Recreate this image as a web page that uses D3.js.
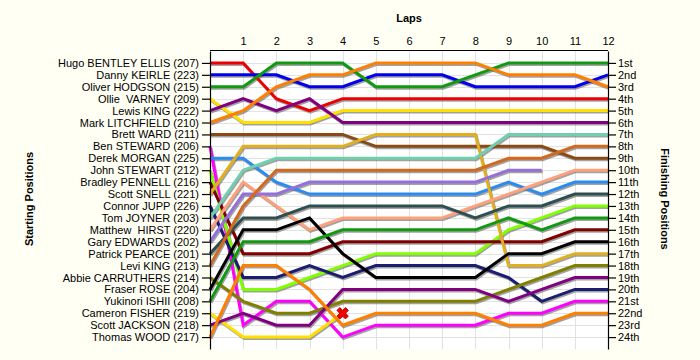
<!DOCTYPE html>
<html><head><meta charset="utf-8">
<script src="https://cdn.jsdelivr.net/npm/d3@7"></script>
<style>
html,body{margin:0;padding:0;background:#fffff4;}
svg{display:block;font-family:"Liberation Sans",Arial,sans-serif;}
text{white-space:pre;}
</style></head>
<body>
<svg id="c" width="700" height="360"></svg>
<script>
const laps = [1,2,3,4,5,6,7,8,9,10,11,12];
const drivers = ["Hugo BENTLEY ELLIS (207)","Danny KEIRLE (223)","Oliver HODGSON (215)","Ollie  VARNEY (209)","Lewis KING (222)","Mark LITCHFIELD (210)","Brett WARD (211)","Ben STEWARD (206)","Derek MORGAN (225)","John STEWART (212)","Bradley PENNELL (216)","Scott SNELL (221)","Connor JUPP (226)","Tom JOYNER (203)","Matthew  HIRST (220)","Gary EDWARDS (202)","Patrick PEARCE (201)","Levi KING (213)","Abbie CARRUTHERS (214)","Fraser ROSE (204)","Yukinori ISHII (208)","Cameron FISHER (219)","Scott JACKSON (218)","Thomas WOOD (217)"];
const finishLabels = ["1st","2nd","3rd","4th","5th","6th","7th","8th","9th","10th","11th","12th","13th","14th","15th","16th","17th","18th","19th","20th","21st","22nd","23rd","24th"];
// positions: start (lap 0) then laps 1..12 ; null = retired
const positions = [
 [1,1,4,5,4,4,4,4,4,4,4,4,4],
 [2,2,2,3,3,2,2,2,3,3,3,3,2],
 [3,3,1,1,1,3,3,3,2,1,1,1,1],
 [4,6,6,6,5,5,5,5,5,5,5,5,5],
 [5,4,5,4,6,6,6,6,6,6,6,6,6],
 [6,5,3,2,2,1,1,1,1,2,2,2,3],
 [7,7,7,7,7,8,8,8,8,8,8,9,9],
 [8,23,21,21,24,23,23,23,23,22,22,21,21],
 [9,9,11,12,12,12,12,12,12,11,12,11,11],
 [10,20,20,19,18,17,17,17,17,15,14,13,13],
 [11,17,17,17,16,16,16,16,16,16,16,15,15],
 [12,8,8,8,8,7,7,7,7,18,18,17,17],
 [13,19,19,18,19,18,18,18,18,19,21,20,20],
 [14,10,9,9,9,9,9,9,9,7,7,7,7],
 [15,11,13,15,14,14,14,14,13,12,11,10,10],
 [16,12,12,11,11,11,11,11,11,10,10,null,null],
 [17,14,14,13,13,13,13,13,14,13,13,12,12],
 [18,13,10,10,10,10,10,10,10,9,9,8,8],
 [19,21,22,22,21,21,21,21,21,20,19,18,18],
 [20,15,15,14,17,19,19,19,19,17,17,16,16],
 [21,16,16,16,15,15,15,15,15,14,15,14,14],
 [22,24,24,24,22,null,null,null,null,null,null,null,null],
 [23,22,23,23,20,20,20,20,20,21,20,19,19],
 [24,18,18,20,23,22,22,22,22,23,23,22,22]
];
const retiredMarks = [21]; // driver index with crash marker
const colors = ["#ee0000","#0000ee","#119911","#ffe000","#800080","#ff8000","#8b4a14","#ff00ff","#2a8cf0","#80ff00","#800000","#e0b020","#1c1c70","#70cfac","#ffa07a","#9370db","#2f4f4f","#d2691e","#808000","#000000","#119911","#ffe000","#800080","#ff8000"];

const svg = d3.select("#c");
const L = 210, R = 608, T = 51, B = 349;
const x = d3.scaleLinear().domain([0,12]).range([L,R]);
const y = d3.scaleLinear().domain([0,25]).range([T,B]);

svg.append("rect").attr("x",L).attr("y",T-1).attr("width",R-L).attr("height",B-T+1).attr("fill","#fff");

// grid
const g = svg.append("g").attr("stroke","#e2e2e2").attr("stroke-width",1);
laps.forEach(l=>g.append("line").attr("x1",Math.round(x(l))+0.5).attr("x2",Math.round(x(l))+0.5).attr("y1",T).attr("y2",B));
d3.range(1,25).forEach(p=>g.append("line").attr("x1",L).attr("x2",R).attr("y1",Math.round(y(p))+0.5).attr("y2",Math.round(y(p))+0.5));

// lines
const line = d3.line().defined(d=>d!=null).x((d,i)=>x(i)).y(d=>y(d));
const lg = svg.append("g").attr("fill","none").attr("stroke-linejoin","miter");
positions.forEach((p,i)=>{
  lg.append("path").attr("d",line(p)).attr("stroke","#555").attr("stroke-opacity",0.55).attr("stroke-width",3).attr("transform","translate(1,1.5)");
});
positions.forEach((p,i)=>{
  lg.append("path").attr("d",line(p)).attr("stroke",colors[i]).attr("stroke-width",3);
});

// retirement marker
retiredMarks.forEach(i=>{
  const p = positions[i];
  let last = 0; p.forEach((v,k)=>{ if(v!=null) last=k; });
  const cx = x(last), cy = y(p[last]);
  const mk = svg.append("g").attr("transform",`translate(${cx},${cy}) rotate(45)`);
  mk.append("path").attr("d","M-6,-2H6V2H-6Z M-2,-6H2V6H-2Z").attr("fill","#e00").attr("stroke","#800").attr("stroke-width",0.8);
  mk.append("rect").attr("x",-6).attr("y",-2).attr("width",12).attr("height",4).attr("fill","#e00");
  mk.append("rect").attr("x",-2).attr("y",-6).attr("width",4).attr("height",12).attr("fill","#e00");
});

// axes
const fs = "11px";
const topAxis = svg.append("g").attr("transform",`translate(0,${T-1})`)
  .call(d3.axisTop(x).tickValues(laps).tickSize(0).tickPadding(5).tickFormat(d3.format("d")));
topAxis.select(".domain").attr("d",`M${L},0.5H${R}`).attr("stroke","#000");
topAxis.selectAll("text").attr("font-size",fs).attr("fill","#000").attr("font-family","Liberation Sans, Arial");

const leftAxis = svg.append("g").attr("transform",`translate(${L},0)`)
  .call(d3.axisLeft(y).tickValues(d3.range(1,25)).tickSize(8).tickSizeOuter(0).tickPadding(3).tickFormat(d=>drivers[d-1]));
leftAxis.selectAll("text").attr("font-size",fs).attr("fill","#000").attr("font-family","Liberation Sans, Arial");

const rightAxis = svg.append("g").attr("transform",`translate(${R},0)`)
  .call(d3.axisRight(y).tickValues(d3.range(1,25)).tickSize(8).tickSizeOuter(0).tickPadding(2).tickFormat(d=>finishLabels[d-1]));
rightAxis.selectAll("text").attr("font-size",fs).attr("fill","#000").attr("font-family","Liberation Sans, Arial");
svg.selectAll(".domain, .tick line").attr("stroke","#000").attr("stroke-width",1.2);

// titles
svg.append("text").attr("x",(L+R)/2).attr("y",22).attr("text-anchor","middle").attr("font-weight","bold").attr("font-size","11px").text("Laps");
svg.append("text").attr("transform","translate(33,199) rotate(-90)").attr("text-anchor","middle").attr("font-weight","bold").attr("font-size","11px").text("Starting Positions");
svg.append("text").attr("transform","translate(661,199) rotate(90)").attr("text-anchor","middle").attr("font-weight","bold").attr("font-size","11px").text("Finishing Positions");
</script>
</body></html>
